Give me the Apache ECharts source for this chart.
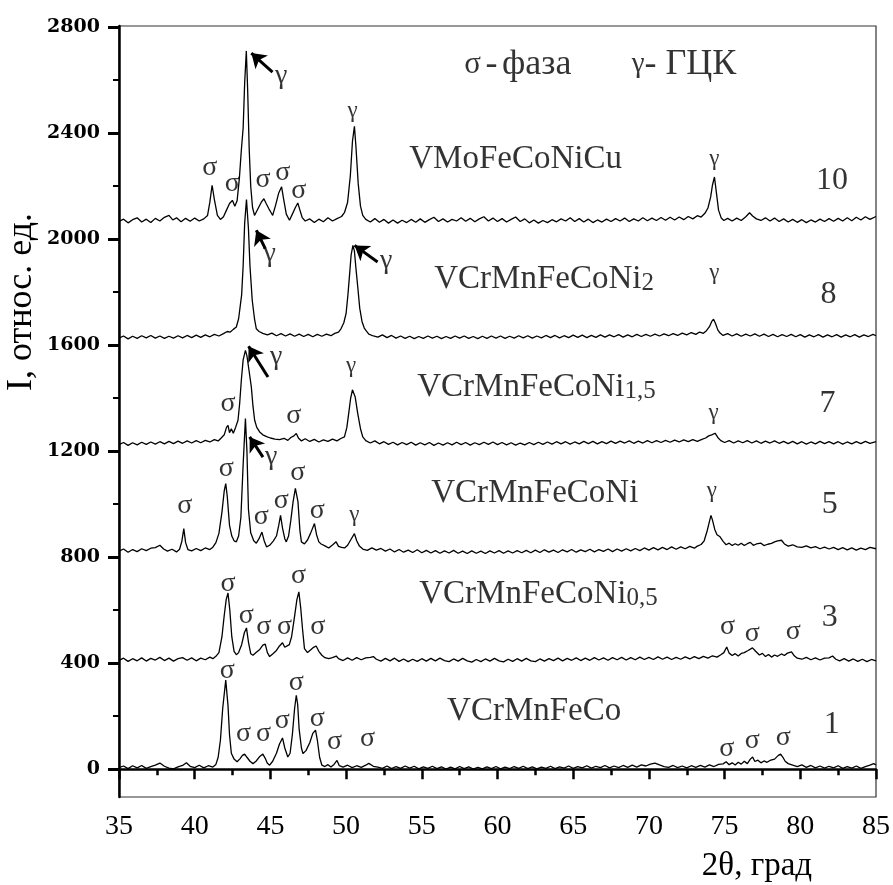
<!DOCTYPE html>
<html>
<head>
<meta charset="utf-8">
<script src="https://cdn.jsdelivr.net/npm/echarts@6/dist/echarts.min.js"></script>
<style>
  html, body { margin: 0; padding: 0; background: #fff; }
  #chart { width: 893px; height: 885px; }
</style>
</head>
<body>
<div id="chart"></div>
<script>
// XRD patterns, 2theta (deg) vs intensity (rel. units), curves shifted vertically
const curve1 = [[35,6],[35.3,12],[35.6,2],[35.9,13],[36.2,5],[36.5,14],[36.8,3],[37.1,10],[37.4,15],[37.7,23],[38.0,11],[38.3,4],[38.6,1],[38.9,9],[39.2,14],[39.45,24],[39.7,11],[40.0,6],[40.3,15],[40.6,5],[40.9,13],[41.2,8],[41.4,18],[41.55,45],[41.7,110],[41.85,230],[42.05,336],[42.2,240],[42.3,130],[42.42,60],[42.6,38],[42.8,28],[43.0,40],[43.15,52],[43.3,57],[43.45,45],[43.65,30],[43.85,21],[44.05,30],[44.3,48],[44.5,57],[44.65,42],[44.8,22],[44.95,15],[45.15,30],[45.4,60],[45.6,95],[45.8,118],[45.95,80],[46.15,46],[46.3,60],[46.45,130],[46.6,230],[46.71,279],[46.8,245],[46.9,150],[47.05,80],[47.15,59],[47.35,70],[47.6,100],[47.8,135],[47.98,147],[48.1,110],[48.25,45],[48.4,15],[48.6,10],[48.8,17],[49.0,8],[49.2,18],[49.4,33],[49.55,13],[49.8,8],[50.1,15],[50.4,6],[50.7,13],[51.0,7],[51.3,15],[51.5,22],[51.62,28],[51.8,11],[52.1,8],[52.4,3],[52.7,12],[53.0,2],[53.3,10],[53.6,3],[53.9,12],[54.2,4],[54.5,11],[54.8,1],[55.1,9],[55.4,3],[55.7,11],[56.0,2],[56.3,9],[56.6,0],[56.9,8],[57.2,1],[57.5,10],[57.8,2],[58.1,9],[58.4,0],[58.7,7],[59.0,1],[59.3,9],[59.6,2],[59.9,10],[60.2,1],[60.5,8],[60.8,2],[61.1,10],[61.4,3],[61.7,11],[62.0,2],[62.3,9],[62.6,1],[62.9,8],[63.2,3],[63.5,11],[63.8,2],[64.1,9],[64.4,4],[64.7,12],[65.0,3],[65.3,10],[65.6,5],[65.9,13],[66.2,4],[66.5,11],[66.8,6],[67.1,14],[67.4,5],[67.7,12],[68.0,6],[68.3,14],[68.6,7],[68.9,15],[69.2,8],[69.5,16],[69.8,12],[70.1,19],[70.4,23],[70.7,16],[71.0,10],[71.3,7],[71.6,14],[71.9,6],[72.2,12],[72.5,5],[72.8,13],[73.1,7],[73.4,14],[73.7,8],[74.0,16],[74.3,10],[74.6,18],[74.9,20],[75.1,28],[75.3,17],[75.5,24],[75.7,16],[75.9,26],[76.1,19],[76.3,30],[76.5,21],[76.7,38],[76.85,46],[77.0,29],[77.2,34],[77.4,24],[77.6,31],[77.8,26],[78.0,33],[78.3,38],[78.55,52],[78.7,57],[78.85,45],[79.0,30],[79.2,21],[79.5,15],[79.8,10],[80.1,16],[80.4,7],[80.7,14],[81.0,5],[81.3,12],[81.6,4],[81.9,11],[82.2,5],[82.5,13],[82.8,3],[83.1,10],[83.4,4],[83.7,12],[84.0,3],[84.3,10],[84.6,15],[84.85,21],[85,16]];

const curve3 = [[35,411],[35.3,419],[35.6,407],[35.9,417],[36.2,409],[36.5,420],[36.8,408],[37.1,418],[37.4,412],[37.7,422],[38.0,410],[38.3,419],[38.6,408],[38.9,417],[39.2,421],[39.5,411],[39.8,420],[40.1,409],[40.4,419],[40.7,413],[41.0,423],[41.2,417],[41.4,426],[41.6,440],[41.8,500],[41.95,580],[42.08,640],[42.2,665],[42.32,600],[42.45,500],[42.6,445],[42.75,432],[42.9,440],[43.1,470],[43.28,515],[43.42,533],[43.55,480],[43.7,436],[43.85,430],[44.05,440],[44.3,452],[44.5,468],[44.66,472],[44.8,440],[44.95,425],[45.15,435],[45.4,448],[45.6,465],[45.8,477],[45.95,460],[46.08,455],[46.25,470],[46.4,500],[46.58,570],[46.75,640],[46.88,669],[47.0,610],[47.12,530],[47.25,455],[47.45,440],[47.65,450],[47.85,460],[48.02,465],[48.2,445],[48.4,430],[48.6,421],[48.85,417],[49.1,421],[49.35,427],[49.5,417],[49.8,410],[50.1,420],[50.4,411],[50.7,421],[51.0,413],[51.3,420],[51.6,422],[51.8,425],[52.0,415],[52.3,408],[52.6,418],[52.9,409],[53.2,419],[53.5,407],[53.8,416],[54.1,406],[54.4,415],[54.7,407],[55.0,417],[55.3,408],[55.6,418],[55.9,409],[56.2,419],[56.5,410],[56.8,406],[57.1,416],[57.4,408],[57.7,418],[58.0,409],[58.3,404],[58.6,414],[58.9,406],[59.2,416],[59.5,408],[59.8,418],[60.1,409],[60.4,405],[60.7,415],[61.0,407],[61.3,417],[61.6,408],[61.9,418],[62.2,409],[62.5,406],[62.8,416],[63.1,408],[63.4,417],[63.7,410],[64.0,419],[64.3,409],[64.6,418],[64.9,411],[65.2,420],[65.5,410],[65.8,419],[66.1,411],[66.4,421],[66.7,412],[67.0,420],[67.3,411],[67.6,421],[67.9,413],[68.2,422],[68.5,412],[68.8,421],[69.1,413],[69.4,423],[69.7,414],[70.0,422],[70.3,414],[70.6,424],[70.9,415],[71.2,423],[71.5,414],[71.8,422],[72.1,415],[72.4,424],[72.7,416],[73.0,425],[73.3,417],[73.6,426],[73.9,419],[74.2,428],[74.5,423],[74.75,432],[74.95,440],[75.14,461],[75.3,438],[75.5,429],[75.7,436],[75.9,427],[76.1,437],[76.3,440],[76.55,448],[76.84,458],[77.05,445],[77.3,431],[77.5,437],[77.7,425],[77.9,433],[78.1,423],[78.3,431],[78.5,426],[78.75,435],[78.95,429],[79.15,438],[79.42,443],[79.6,428],[79.8,419],[80.1,415],[80.4,422],[80.7,413],[81.0,420],[81.3,412],[81.6,419],[81.9,420],[82.13,427],[82.35,415],[82.6,409],[82.9,417],[83.2,408],[83.5,416],[83.8,407],[84.1,415],[84.4,406],[84.7,414],[85,409]];

const curve5 = [[35,823],[35.3,831],[35.6,819],[35.9,829],[36.2,821],[36.5,832],[36.8,825],[37.1,834],[37.4,836],[37.7,845],[37.95,831],[38.2,823],[38.5,830],[38.8,820],[39.0,830],[39.15,860],[39.28,908],[39.4,855],[39.55,829],[39.8,824],[40.1,833],[40.4,825],[40.7,835],[41.0,829],[41.2,838],[41.4,855],[41.6,890],[41.8,970],[41.95,1050],[42.05,1078],[42.15,1030],[42.3,920],[42.45,880],[42.6,862],[42.75,858],[42.9,880],[43.05,950],[43.2,1150],[43.35,1323],[43.45,1200],[43.55,980],[43.7,892],[43.9,862],[44.07,853],[44.25,870],[44.44,895],[44.6,860],[44.75,839],[44.95,845],[45.2,862],[45.4,880],[45.55,920],[45.67,958],[45.8,910],[45.95,870],[46.05,858],[46.2,880],[46.35,940],[46.5,1010],[46.65,1060],[46.72,1065],[46.82,1010],[46.95,900],[47.05,858],[47.25,850],[47.45,865],[47.65,890],[47.91,927],[48.05,885],[48.2,858],[48.35,850],[48.6,843],[48.85,835],[49.1,846],[49.34,858],[49.5,841],[49.7,837],[49.9,835],[50.1,845],[50.3,865],[50.55,889],[50.7,862],[50.88,842],[51.1,831],[51.4,826],[51.7,835],[52.0,827],[52.3,833],[52.6,823],[52.9,831],[53.2,820],[53.5,829],[53.8,819],[54.1,827],[54.4,818],[54.7,828],[55.0,817],[55.3,826],[55.6,816],[55.9,825],[56.2,815],[56.5,824],[56.8,816],[57.1,826],[57.4,815],[57.7,823],[58.0,814],[58.3,824],[58.6,815],[58.9,823],[59.2,814],[59.5,824],[59.8,816],[60.1,825],[60.4,815],[60.7,824],[61.0,816],[61.3,825],[61.6,817],[61.9,826],[62.2,817],[62.5,827],[62.8,818],[63.1,828],[63.4,819],[63.7,827],[64.0,818],[64.3,828],[64.6,820],[64.9,829],[65.2,819],[65.5,828],[65.8,821],[66.1,830],[66.4,820],[66.7,829],[67.0,822],[67.3,831],[67.6,821],[67.9,831],[68.2,823],[68.5,832],[68.8,824],[69.1,833],[69.4,825],[69.7,835],[70.0,827],[70.3,836],[70.6,828],[70.9,837],[71.2,829],[71.5,839],[71.8,830],[72.1,839],[72.4,832],[72.7,841],[73.0,834],[73.2,842],[73.45,848],[73.65,862],[73.85,900],[74.0,935],[74.1,958],[74.2,940],[74.35,905],[74.5,885],[74.7,877],[74.9,860],[75.1,847],[75.3,853],[75.5,844],[75.7,851],[75.9,845],[76.1,853],[76.3,844],[76.5,851],[76.7,856],[76.9,845],[77.1,850],[77.4,853],[77.6,844],[77.85,849],[78.1,852],[78.3,858],[78.5,862],[78.76,864],[78.95,850],[79.2,842],[79.5,847],[79.8,839],[80.1,837],[80.4,843],[80.7,835],[81.0,840],[81.3,832],[81.6,838],[81.9,831],[82.2,837],[82.5,829],[82.8,836],[83.1,828],[83.4,835],[83.7,827],[84.0,834],[84.3,829],[84.6,837],[85,832]];

const curve7 = [[35,1225],[35.3,1233],[35.6,1222],[35.9,1232],[36.2,1224],[36.5,1234],[36.8,1226],[37.1,1235],[37.4,1227],[37.7,1236],[38.0,1228],[38.3,1237],[38.6,1229],[38.9,1238],[39.2,1230],[39.5,1239],[39.8,1231],[40.1,1240],[40.4,1232],[40.7,1241],[41.0,1235],[41.3,1244],[41.55,1239],[41.75,1250],[41.95,1262],[42.1,1290],[42.2,1298],[42.3,1270],[42.42,1285],[42.55,1268],[42.7,1290],[42.86,1317],[42.97,1380],[43.08,1468],[43.2,1545],[43.35,1581],[43.45,1560],[43.6,1500],[43.74,1443],[43.85,1370],[43.96,1317],[44.1,1290],[44.29,1273],[44.5,1262],[44.75,1255],[45.0,1250],[45.3,1246],[45.6,1244],[45.9,1249],[46.15,1241],[46.35,1252],[46.55,1258],[46.71,1267],[46.85,1250],[47.05,1239],[47.3,1247],[47.6,1237],[47.9,1245],[48.2,1235],[48.5,1243],[48.8,1237],[49.1,1246],[49.4,1239],[49.65,1248],[49.89,1254],[50.05,1290],[50.17,1342],[50.3,1400],[50.42,1432],[50.5,1437],[50.6,1405],[50.77,1342],[50.95,1285],[51.1,1254],[51.3,1240],[51.6,1231],[51.9,1239],[52.2,1228],[52.5,1236],[52.8,1226],[53.1,1234],[53.4,1224],[53.7,1233],[54.0,1225],[54.3,1234],[54.6,1223],[54.9,1232],[55.2,1224],[55.5,1233],[55.8,1222],[56.1,1231],[56.4,1223],[56.7,1232],[57.0,1224],[57.3,1234],[57.6,1225],[57.9,1233],[58.2,1223],[58.5,1232],[58.8,1225],[59.1,1234],[59.4,1226],[59.7,1235],[60.0,1225],[60.3,1233],[60.6,1224],[60.9,1232],[61.2,1223],[61.5,1231],[61.8,1224],[62.1,1233],[62.4,1225],[62.7,1234],[63.0,1226],[63.3,1235],[63.6,1227],[63.9,1236],[64.2,1228],[64.5,1236],[64.8,1227],[65.1,1235],[65.4,1228],[65.7,1237],[66.0,1229],[66.3,1237],[66.6,1228],[66.9,1236],[67.2,1229],[67.5,1238],[67.8,1230],[68.1,1238],[68.4,1231],[68.7,1239],[69.0,1230],[69.3,1238],[69.6,1231],[69.9,1240],[70.2,1232],[70.5,1240],[70.8,1233],[71.1,1241],[71.4,1234],[71.7,1242],[72.0,1235],[72.3,1243],[72.6,1236],[72.9,1244],[73.2,1237],[73.5,1245],[73.75,1250],[73.95,1258],[74.15,1262],[74.37,1268],[74.55,1252],[74.75,1240],[75.0,1233],[75.3,1240],[75.6,1231],[75.9,1239],[76.2,1232],[76.5,1240],[76.8,1231],[77.1,1239],[77.4,1230],[77.7,1238],[78.0,1231],[78.3,1239],[78.6,1230],[78.9,1237],[79.2,1229],[79.5,1237],[79.8,1228],[80.1,1236],[80.4,1227],[80.7,1235],[81.0,1228],[81.3,1237],[81.6,1229],[81.9,1236],[82.2,1228],[82.5,1236],[82.8,1227],[83.1,1235],[83.4,1228],[83.7,1236],[84.0,1229],[84.3,1237],[84.6,1230],[85,1236]];

const curve8 = [[35,1627],[35.3,1635],[35.6,1624],[35.9,1634],[36.2,1626],[36.5,1636],[36.8,1628],[37.1,1637],[37.4,1627],[37.7,1635],[38.0,1626],[38.3,1634],[38.6,1627],[38.9,1636],[39.2,1628],[39.5,1637],[39.8,1629],[40.1,1638],[40.4,1630],[40.7,1639],[41.0,1632],[41.3,1641],[41.6,1635],[41.9,1644],[42.15,1652],[42.35,1650],[42.55,1660],[42.75,1669],[42.9,1700],[43.0,1745],[43.1,1790],[43.2,1900],[43.3,2060],[43.42,2150],[43.55,2040],[43.65,1900],[43.8,1770],[43.95,1700],[44.07,1662],[44.25,1652],[44.5,1645],[44.8,1639],[45.1,1646],[45.4,1636],[45.7,1644],[46.0,1635],[46.3,1643],[46.6,1634],[46.9,1642],[47.2,1633],[47.5,1641],[47.8,1632],[48.1,1641],[48.4,1634],[48.7,1642],[49.0,1636],[49.25,1645],[49.5,1650],[49.67,1663],[49.85,1685],[50.0,1720],[50.12,1790],[50.22,1860],[50.33,1940],[50.45,1977],[50.55,1955],[50.65,1890],[50.77,1820],[50.9,1740],[51.05,1690],[51.2,1665],[51.32,1655],[51.5,1642],[51.8,1635],[52.1,1631],[52.4,1639],[52.7,1629],[53.0,1637],[53.3,1627],[53.6,1635],[53.9,1626],[54.2,1634],[54.5,1625],[54.8,1633],[55.1,1626],[55.4,1635],[55.7,1627],[56.0,1634],[56.3,1625],[56.6,1633],[56.9,1626],[57.2,1635],[57.5,1627],[57.8,1635],[58.1,1626],[58.4,1633],[58.7,1625],[59.0,1634],[59.3,1626],[59.6,1635],[59.9,1627],[60.2,1635],[60.5,1626],[60.8,1634],[61.1,1627],[61.4,1636],[61.7,1628],[62.0,1636],[62.3,1627],[62.6,1635],[62.9,1628],[63.2,1637],[63.5,1629],[63.8,1637],[64.1,1628],[64.4,1636],[64.7,1629],[65.0,1638],[65.3,1630],[65.6,1638],[65.9,1629],[66.2,1637],[66.5,1630],[66.8,1639],[67.1,1631],[67.4,1639],[67.7,1632],[68.0,1640],[68.3,1631],[68.6,1639],[68.9,1632],[69.2,1641],[69.5,1633],[69.8,1641],[70.1,1634],[70.4,1642],[70.7,1635],[71.0,1643],[71.3,1636],[71.6,1644],[71.9,1637],[72.2,1646],[72.5,1639],[72.8,1648],[73.1,1641],[73.35,1650],[73.6,1645],[73.8,1655],[74.0,1670],[74.15,1690],[74.27,1698],[74.4,1682],[74.55,1658],[74.7,1646],[74.9,1637],[75.2,1644],[75.5,1635],[75.8,1643],[76.1,1634],[76.4,1642],[76.7,1635],[77.0,1643],[77.3,1634],[77.6,1642],[77.9,1633],[78.2,1641],[78.5,1632],[78.8,1640],[79.1,1633],[79.4,1641],[79.7,1632],[80.0,1640],[80.3,1631],[80.6,1639],[80.9,1632],[81.2,1640],[81.5,1631],[81.8,1639],[82.1,1632],[82.4,1640],[82.7,1631],[83.0,1639],[83.3,1632],[83.6,1640],[83.9,1631],[84.2,1639],[84.5,1633],[84.8,1641],[85,1636]];

const curve10 = [[35,2067],[35.3,2076],[35.6,2062],[35.9,2074],[36.2,2081],[36.5,2065],[36.8,2076],[37.1,2063],[37.4,2079],[37.7,2069],[38.0,2083],[38.3,2090],[38.55,2073],[38.8,2081],[39.1,2066],[39.4,2079],[39.7,2068],[40.0,2080],[40.3,2069],[40.6,2077],[40.85,2090],[41.0,2140],[41.15,2204],[41.3,2150],[41.5,2090],[41.7,2075],[41.9,2085],[42.1,2110],[42.3,2135],[42.49,2147],[42.65,2125],[42.8,2145],[42.95,2230],[43.08,2336],[43.2,2420],[43.3,2590],[43.41,2711],[43.5,2560],[43.6,2340],[43.7,2200],[43.82,2120],[43.95,2090],[44.07,2087],[44.22,2120],[44.4,2140],[44.57,2153],[44.72,2135],[44.9,2115],[45.05,2100],[45.15,2090],[45.35,2130],[45.55,2175],[45.74,2198],[45.88,2150],[46.05,2095],[46.26,2072],[46.45,2095],[46.65,2120],[46.81,2137],[46.95,2110],[47.1,2082],[47.3,2069],[47.6,2077],[47.9,2063],[48.2,2076],[48.5,2066],[48.8,2081],[49.1,2069],[49.4,2078],[49.7,2086],[49.9,2102],[50.1,2140],[50.28,2240],[50.42,2370],[50.55,2426],[50.65,2350],[50.8,2210],[50.95,2125],[51.1,2090],[51.3,2075],[51.6,2065],[51.9,2078],[52.2,2064],[52.5,2075],[52.8,2061],[53.1,2073],[53.4,2061],[53.7,2072],[54.0,2063],[54.3,2075],[54.6,2064],[54.9,2077],[55.2,2064],[55.5,2074],[55.8,2083],[56.1,2067],[56.4,2077],[56.7,2065],[57.0,2075],[57.3,2069],[57.6,2081],[57.9,2068],[58.2,2079],[58.5,2066],[58.8,2077],[59.1,2085],[59.4,2069],[59.7,2080],[60.0,2067],[60.3,2078],[60.6,2065],[60.9,2075],[61.2,2084],[61.5,2067],[61.8,2077],[62.1,2062],[62.4,2073],[62.7,2061],[63.0,2071],[63.3,2063],[63.6,2074],[63.9,2066],[64.2,2077],[64.5,2069],[64.8,2081],[65.1,2067],[65.4,2078],[65.7,2065],[66.0,2076],[66.3,2063],[66.6,2073],[66.9,2065],[67.2,2076],[67.5,2067],[67.8,2078],[68.1,2069],[68.4,2080],[68.7,2067],[69.0,2077],[69.3,2069],[69.6,2081],[69.9,2070],[70.2,2080],[70.5,2071],[70.8,2082],[71.1,2072],[71.4,2083],[71.7,2073],[72.0,2084],[72.3,2074],[72.6,2086],[72.9,2077],[73.2,2089],[73.45,2084],[73.7,2098],[73.9,2118],[74.08,2160],[74.2,2205],[74.33,2235],[74.45,2180],[74.6,2110],[74.78,2080],[74.95,2071],[75.2,2079],[75.5,2069],[75.8,2080],[76.1,2071],[76.4,2085],[76.65,2100],[76.85,2088],[77.1,2077],[77.4,2071],[77.7,2081],[78.0,2069],[78.3,2080],[78.6,2067],[78.9,2077],[79.2,2065],[79.5,2075],[79.8,2064],[80.1,2074],[80.4,2063],[80.7,2073],[81.0,2065],[81.3,2076],[81.6,2067],[81.9,2078],[82.2,2068],[82.5,2079],[82.8,2069],[83.1,2081],[83.4,2070],[83.7,2083],[84.0,2073],[84.3,2085],[84.6,2075],[85,2086]];

const curves = [curve1, curve3, curve5, curve7, curve8, curve10];

// phase marks above the peaks: [2theta, intensity]
const sigmaMarks = [
  [41.0,2260],[42.49,2197],[44.51,2212],[45.82,2242],[46.88,2172],
  [42.2,1370],[46.55,1323],
  [39.35,984],[42.09,1122],[44.4,940],[45.72,1003],[46.81,1109],[48.09,965],
  [42.2,688],[43.41,569],[44.57,525],[45.94,525],[46.86,720],[48.13,525],[75.2,525],[76.83,499],[79.53,506],
  [42.16,361],[43.23,122],[44.55,122],[45.78,172],[46.71,317],[48.09,178],[49.23,91],[51.42,103],[75.14,65],[76.83,97],[78.87,109]
];
const gammaMarks = [[50.43,2468],[74.33,2287],[74.33,1858],[50.33,1506],[74.28,1329],[50.55,946],[74.15,1034]];
const gammaArrowLabels = [[45.72,2600],[44.95,1927],[52.64,1902],[45.39,1537],[45.06,1160]];
// arrows: [tail, head]
const arrows = [
  [[45.14,2631],[43.74,2703]],
  [[44.66,1965],[44.07,2034]],
  [[52.08,1914],[50.56,1977]],
  [[44.84,1480],[43.56,1596]],
  [[44.51,1178],[43.63,1254]]
];
const sampleNames = [
  ['{a|VMoFeCoNiCu}', 54.17, 2302],
  ['{a|VCrMnFeCoNi}{b|2}', 55.82, 1849],
  ['{a|VCrMnFeCoNi}{b|1,5}', 54.7, 1442],
  ['{a|VCrMnFeCoNi}', 55.62, 1042],
  ['{a|VCrMnFeCoNi}{b|0,5}', 54.83, 660],
  ['{a|VCrMnFeCo}', 56.67, 219]
];
const curveNumbers = [['10', 82.1, 2223], ['8', 81.87, 1792], ['7', 81.8, 1381], ['5', 81.94, 1000], ['3', 81.94, 574], ['1', 82.07, 170]];
const legendItems = [['{s|σ}{h| }{t|-}{h| }{t|фаза}', 57.8, 2660], ['{g|γ}{t|-}{h|  }{t|ГЦК}', 68.86, 2660]];

const serif = 'Liberation Serif';
const chart = echarts.init(document.getElementById('chart'));

const lineSeries = curves.map(c => ({
  type: 'line',
  data: c,
  showSymbol: false,
  symbol: 'none',
  lineStyle: { color: '#000', width: 1.3 },
  silent: true,
  z: 2
}));

function textSeries(items, fontSize, position, offset, rich) {
  return {
    type: 'scatter',
    symbolSize: 0,
    silent: true,
    z: 5,
    data: items.map(it => ({ value: [it[it.length - 2], it[it.length - 1]], name: it.length > 2 ? it[0] : '' })),
    label: {
      show: true,
      position: position,
      distance: 0,
      offset: offset,
      color: '#000',
      fontFamily: serif,
      fontSize: fontSize,
      formatter: p => p.name,
      rich: rich
    }
  };
}

const sigmaSeries = textSeries(sigmaMarks, 28, 'inside', [0, -3]);
sigmaSeries.label.formatter = 'σ';
const gammaSeries = textSeries(gammaMarks, 23, 'inside', [0, -4]);
gammaSeries.label.formatter = 'γ';
const gammaArrowSeries = textSeries(gammaArrowLabels, 28, 'inside', [0, -5]);
gammaArrowSeries.label.formatter = 'γ';

const nameSeries = textSeries(sampleNames, 33, 'right', [0, 0], {
  a: { fontFamily: serif, fontSize: 33, lineHeight: 33, color: '#000' },
  b: { fontFamily: serif, fontSize: 25, lineHeight: 25, verticalAlign: 'bottom', color: '#000' }
});
const numberSeries = textSeries(curveNumbers, 32, 'inside', [0, 0]);
const legendSeries = textSeries(legendItems, 36, 'right', [0, 0], {
  s: { fontFamily: serif, fontSize: 31, lineHeight: 36, color: '#000' },
  g: { fontFamily: serif, fontSize: 29, lineHeight: 36, color: '#000' },
  h: { fontFamily: serif, fontSize: 18, lineHeight: 36, color: '#000' },
  t: { fontFamily: serif, fontSize: 36, lineHeight: 36, color: '#000' }
});

const arrowSeries = {
  type: 'lines',
  coordinateSystem: 'cartesian2d',
  silent: true,
  z: 4,
  symbol: ['none', 'arrow'],
  symbolSize: 14,
  lineStyle: { color: '#000', width: 3, opacity: 1 },
  data: arrows.map(a => ({ coords: a }))
};

chart.setOption({
  animation: false,
  backgroundColor: '#fff',
  grid: [
    { left: 119, right: 15, top: 26, bottom: 88, show: true, borderColor: '#333', borderWidth: 1.2 },
    { left: 119, right: 15, top: 27.2, height: 741.8 }
  ],
  xAxis: [
    {
      type: 'value', gridIndex: 0, min: 35, max: 85, interval: 5,
      axisLine: { lineStyle: { color: '#000', width: 2.5 } },
      axisTick: { length: 10, lineStyle: { color: '#000', width: 2.5 } },
      minorTick: { show: true, splitNumber: 2, length: 6, lineStyle: { color: '#000', width: 2.5 } },
      axisLabel: { color: '#000', fontFamily: serif, fontSize: 28, margin: 16 },
      splitLine: { show: false }
    },
    { type: 'value', gridIndex: 1, min: 35, max: 85, show: false }
  ],
  yAxis: [
    {
      type: 'value', gridIndex: 0, min: -105, max: 2805,
      axisLine: { show: true, lineStyle: { color: '#000', width: 2.5 } },
      axisTick: { show: false }, axisLabel: { show: false }, splitLine: { show: false }
    },
    {
      type: 'value', gridIndex: 1, min: 0, max: 2800, interval: 400,
      axisLine: { show: false },
      axisTick: { show: true, length: 11, lineStyle: { color: '#000', width: 3 } },
      minorTick: { show: true, splitNumber: 2, length: 6, lineStyle: { color: '#000', width: 2 } },
      axisLabel: { color: '#000', fontFamily: 'DejaVu Serif', fontWeight: 'bold', fontSize: 19, margin: 19, formatter: v => String(v) },
      splitLine: { show: false }
    }
  ],
  graphic: [
    {
      type: 'text', x: 22, y: 302, rotation: Math.PI / 2,
      style: { text: 'I, относ. ед.', font: '36px "Liberation Serif"', fill: '#000', align: 'center', verticalAlign: 'middle' }
    },
    {
      type: 'text', x: 757, y: 866,
      style: { text: '2θ, град', font: '33px "Liberation Serif"', fill: '#000', align: 'center', verticalAlign: 'middle' }
    }
  ],
  series: [...lineSeries, arrowSeries, sigmaSeries, gammaSeries, gammaArrowSeries, nameSeries, numberSeries, legendSeries]
});
</script>
</body>
</html>
